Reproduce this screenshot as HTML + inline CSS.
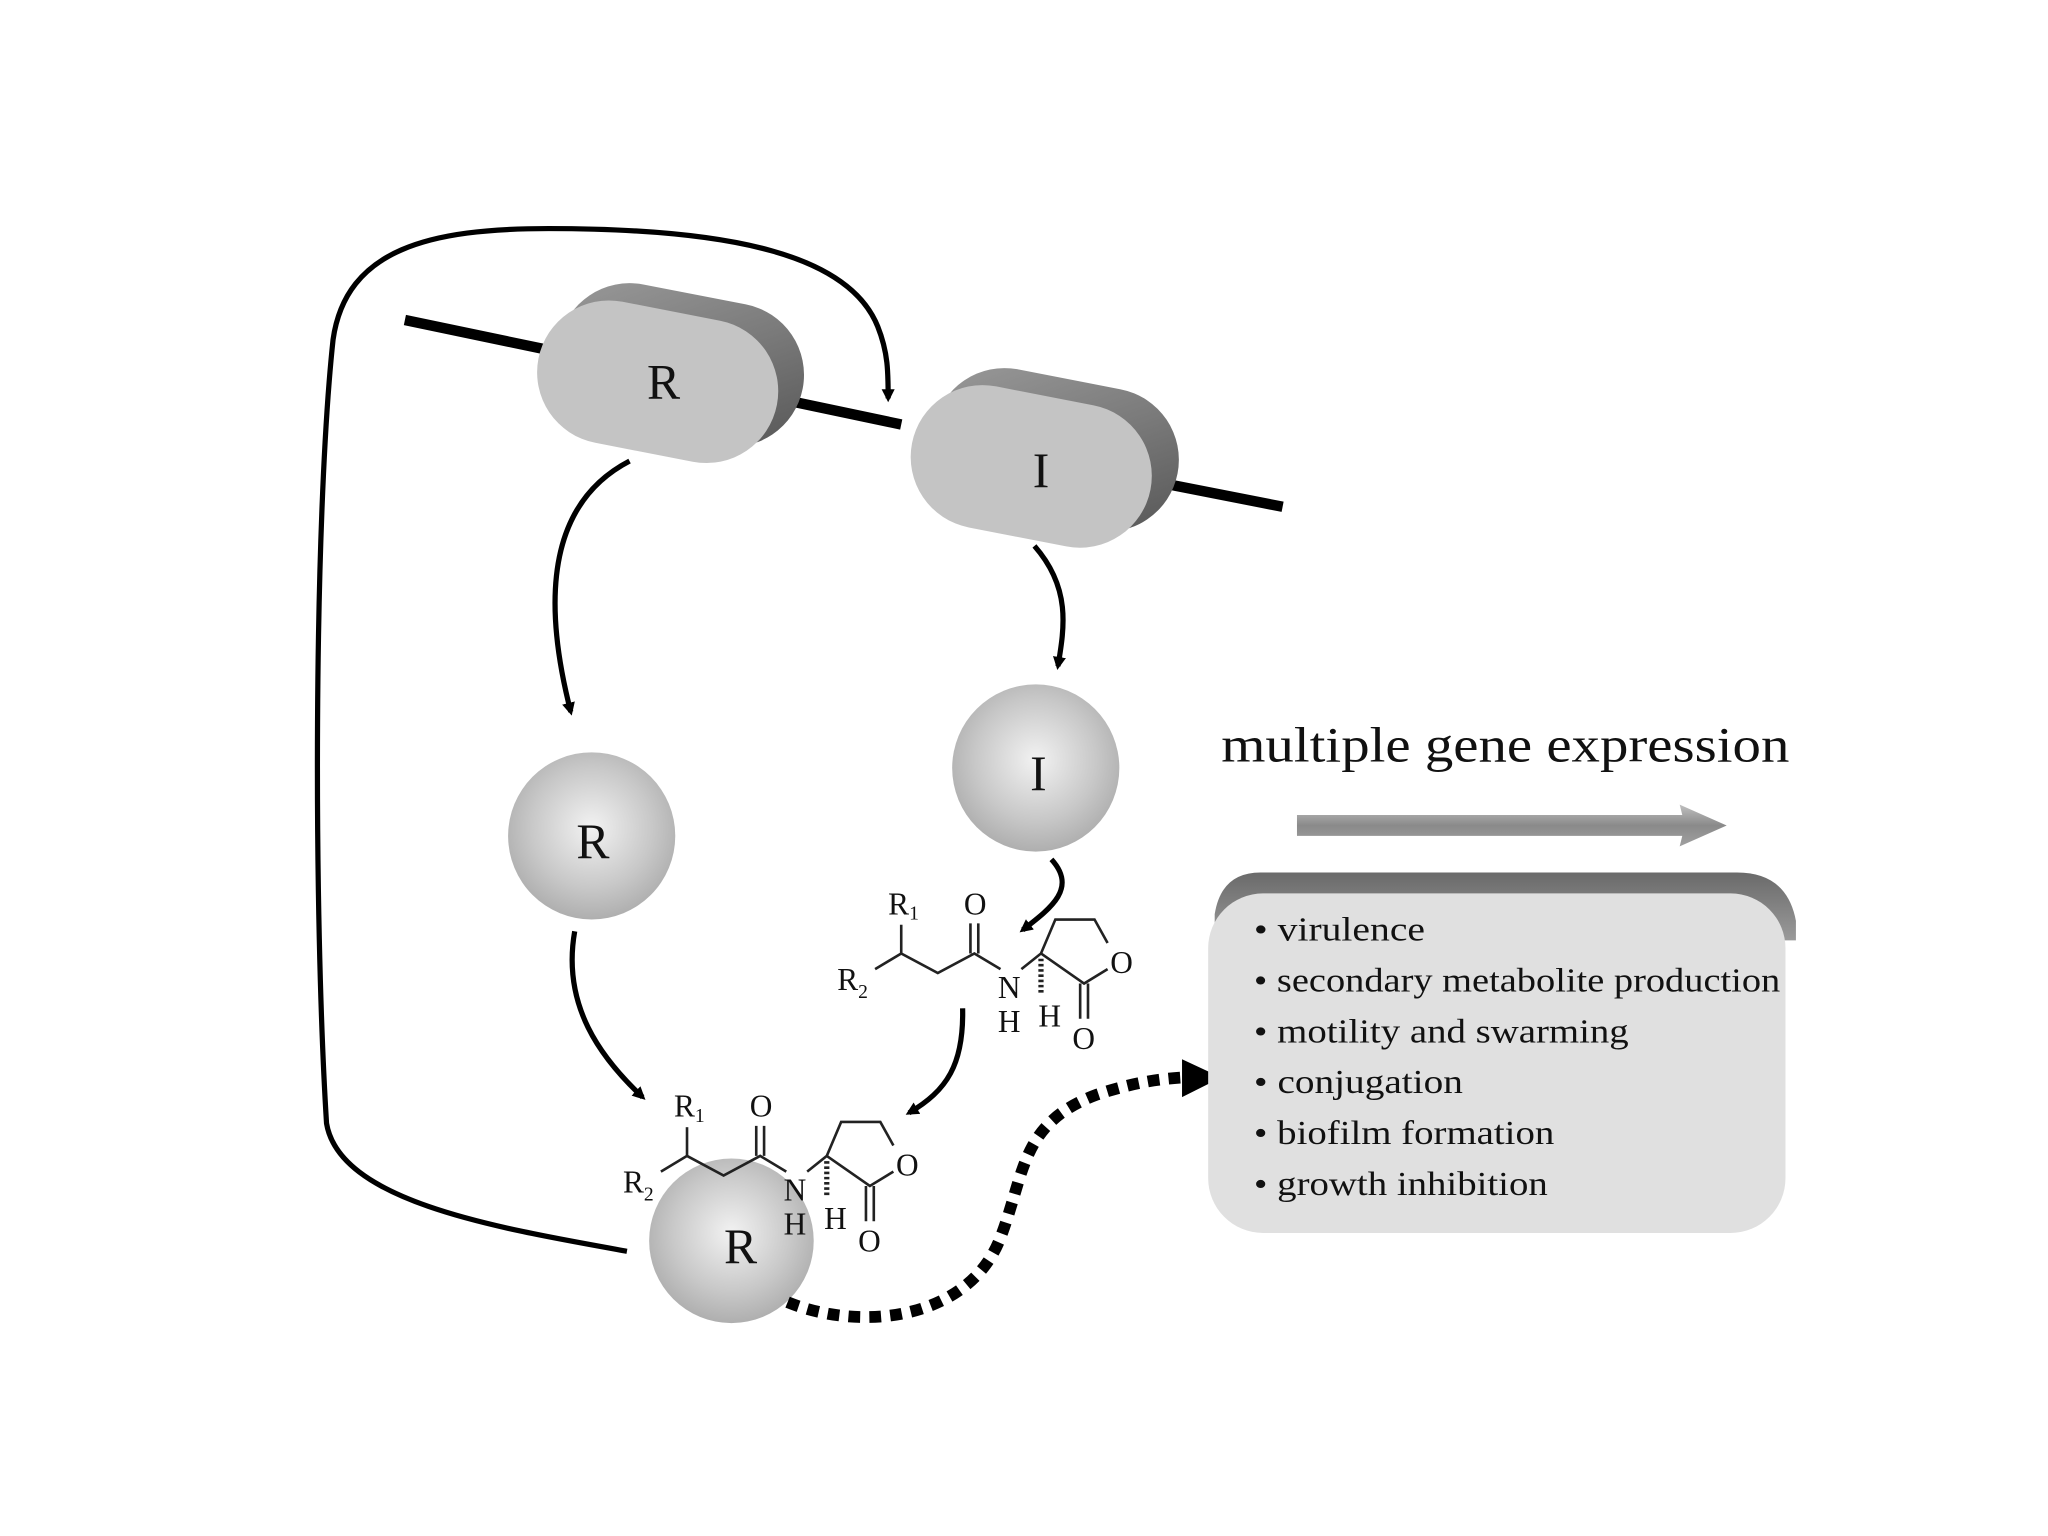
<!DOCTYPE html>
<html><head><meta charset="utf-8"><style>
html,body{margin:0;padding:0;background:#fff;}
svg{display:block;}
text{font-family:"Liberation Serif",serif;fill:#111;}
</style></head><body>
<svg width="2048" height="1536" viewBox="0 0 1568 1176" xmlns="http://www.w3.org/2000/svg">
<defs>
<radialGradient id="ball" cx="0.5" cy="0.45" r="0.6">
<stop offset="0" stop-color="#f2f2f2"/><stop offset="0.6" stop-color="#c8c8c8"/><stop offset="1" stop-color="#a8a8a8"/>
</radialGradient>
<linearGradient id="top" x1="0" y1="0" x2="1" y2="1">
<stop offset="0" stop-color="#9a9a9a"/><stop offset="0.5" stop-color="#7a7a7a"/><stop offset="1" stop-color="#555"/>
</linearGradient>
<linearGradient id="bar" x1="0" y1="0" x2="0" y2="1">
<stop offset="0" stop-color="#c0c0c0"/><stop offset="0.5" stop-color="#8a8a8a"/><stop offset="1" stop-color="#a0a0a0"/>
</linearGradient>
<linearGradient id="boxtop" x1="0" y1="0" x2="0" y2="1">
<stop offset="0" stop-color="#6a6a6a"/><stop offset="1" stop-color="#9a9a9a"/>
</linearGradient>
<marker id="ah" markerWidth="10" markerHeight="10" refX="7" refY="5" orient="auto" markerUnits="userSpaceOnUse">
<path d="M0,0 L10,5 L0,10 Z" fill="#000"/>
</marker>
</defs>

<line x1="310" y1="245" x2="420" y2="268" stroke="#000" stroke-width="8"/>
<line x1="595" y1="305" x2="690" y2="325" stroke="#000" stroke-width="8"/>
<line x1="880" y1="368" x2="982" y2="388" stroke="#000" stroke-width="8"/>

<g transform="rotate(11 508 285)">
<rect x="425" y="222" width="190" height="110" rx="55" fill="url(#top)"/>
<rect x="412" y="238" width="186" height="110" rx="55" fill="#c4c4c4"/>
</g>
<text x="508" y="305" font-size="38" text-anchor="middle">R</text>
<g transform="rotate(11 795 350)">
<rect x="712" y="287" width="190" height="110" rx="55" fill="url(#top)"/>
<rect x="698" y="303" width="186" height="110" rx="55" fill="#c4c4c4"/>
</g>
<text x="797" y="373" font-size="38" text-anchor="middle">I</text>

<path d="M480,958 C380,940 260,920 250,860 C240,700 240,400 255,260 C265,190 330,175 420,175 C560,175 650,195 672,250 C680,270 680,285 680,305" fill="none" stroke="#000" stroke-width="4" marker-end="url(#ah)"/>

<path d="M482,353 C430,380 410,440 437,545" fill="none" stroke="#000" stroke-width="4" marker-end="url(#ah)"/>
<path d="M792,418 C820,450 815,480 810,510" fill="none" stroke="#000" stroke-width="4" marker-end="url(#ah)"/>
<path d="M805,658 C825,680 805,695 783,712" fill="none" stroke="#000" stroke-width="4" marker-end="url(#ah)"/>
<path d="M440,713 C430,770 460,810 492,840" fill="none" stroke="#000" stroke-width="4" marker-end="url(#ah)"/>
<path d="M737,772 C738,815 725,835 696,852" fill="none" stroke="#000" stroke-width="4" marker-end="url(#ah)"/>

<circle cx="453" cy="640" r="64" fill="url(#ball)"/>
<text x="454" y="657" font-size="38" text-anchor="middle">R</text>
<circle cx="793" cy="588" r="64" fill="url(#ball)"/>
<text x="795" y="605" font-size="38" text-anchor="middle">I</text>
<circle cx="560" cy="950" r="63" fill="url(#ball)"/>
<text x="567" y="967" font-size="38" text-anchor="middle">R</text>

<g fill="none" stroke="#222" stroke-width="2">
<path d="M670,742 L690,730 L718,745 L746,730 L766,742"/>
<path d="M690,730 L690,708"/>
<path d="M743,730 L743,707 M749,730 L749,707"/>
<path d="M782,742 L797,730 L808,704 L838,704 L848,722"/>
<path d="M848,742 L830,753 L797,730"/>
<path d="M827,753 L827,780 M833,753 L833,780"/>
<path d="M797,734 L797,762" stroke-width="4" stroke-dasharray="2 2"/>
</g>
<g font-size="24">
<text x="680" y="700">R<tspan font-size="15" dy="4">1</tspan></text>
<text x="738" y="700">O</text>
<text x="641" y="758">R<tspan font-size="15" dy="6">2</tspan></text>
<text x="764" y="764">N</text>
<text x="764" y="790">H</text>
<text x="795" y="786">H</text>
<text x="850" y="745">O</text>
<text x="821" y="803">O</text>
</g>
<g transform="translate(-164,155)">
<g fill="none" stroke="#222" stroke-width="2">
<path d="M670,742 L690,730 L718,745 L746,730 L766,742"/>
<path d="M690,730 L690,708"/>
<path d="M743,730 L743,707 M749,730 L749,707"/>
<path d="M782,742 L797,730 L808,704 L838,704 L848,722"/>
<path d="M848,742 L830,753 L797,730"/>
<path d="M827,753 L827,780 M833,753 L833,780"/>
<path d="M797,734 L797,762" stroke-width="4" stroke-dasharray="2 2"/>
</g>
<g font-size="24">
<text x="680" y="700">R<tspan font-size="15" dy="4">1</tspan></text>
<text x="738" y="700">O</text>
<text x="641" y="758">R<tspan font-size="15" dy="6">2</tspan></text>
<text x="764" y="764">N</text>
<text x="764" y="790">H</text>
<text x="795" y="786">H</text>
<text x="850" y="745">O</text>
<text x="821" y="803">O</text>
</g>
</g>

<path d="M603,997 C660,1020 740,1010 765,950 C785,900 780,860 840,838 C870,828 890,826 905,825" fill="none" stroke="#000" stroke-width="9" stroke-dasharray="9 7"/>
<path d="M905,811 L935,825 L905,840 Z" fill="#000"/>

<text x="935" y="583" font-size="38" fill="#222" textLength="435" lengthAdjust="spacingAndGlyphs">multiple gene expression</text>
<path d="M993,624 L1288,624 L1286,616 L1322,632 L1286,648 L1288,640 L993,640 Z" fill="url(#bar)"/>

<path d="M965,668 L1330,668 Q1368,668 1375,705 L1375,720 L930,720 L930,700 Q935,668 965,668 Z" fill="url(#boxtop)"/>
<rect x="925" y="684" width="442" height="260" rx="42" fill="#e0e0e0"/>
<g font-size="26" fill="#222">
<text x="960" y="720" textLength="131" lengthAdjust="spacingAndGlyphs">• virulence</text>
<text x="960" y="759" textLength="403" lengthAdjust="spacingAndGlyphs">• secondary metabolite production</text>
<text x="960" y="798" textLength="287" lengthAdjust="spacingAndGlyphs">• motility and swarming</text>
<text x="960" y="837" textLength="160" lengthAdjust="spacingAndGlyphs">• conjugation</text>
<text x="960" y="876" textLength="230" lengthAdjust="spacingAndGlyphs">• biofilm formation</text>
<text x="960" y="915" textLength="225" lengthAdjust="spacingAndGlyphs">• growth inhibition</text>
</g>
</svg>
</body></html>
